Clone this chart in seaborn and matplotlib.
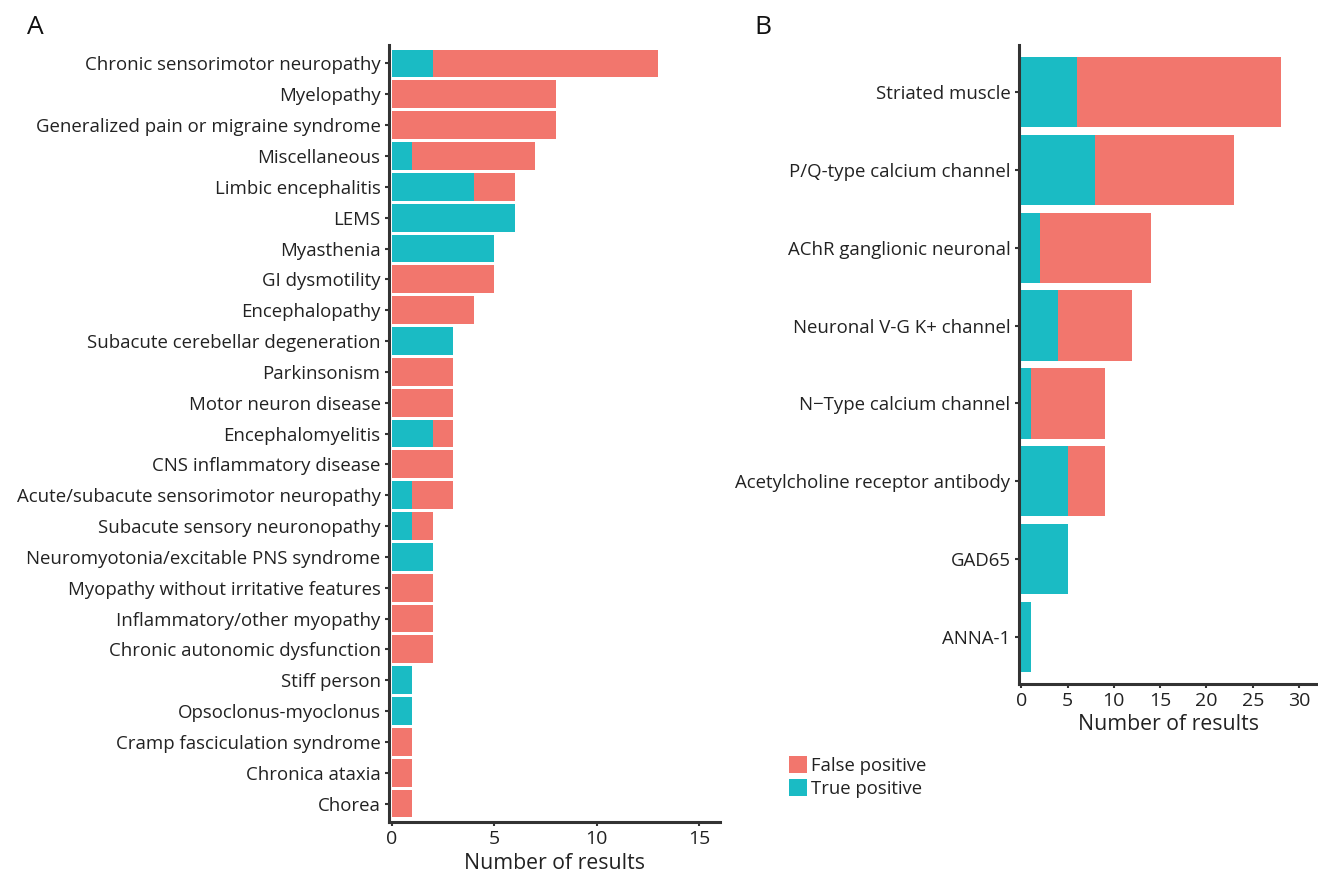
import matplotlib
matplotlib.use("Agg")
import matplotlib.pyplot as plt
import seaborn as sns
import pandas as pd
from matplotlib.patches import Patch

# ---- data ----
a_labels = ["Chronic sensorimotor neuropathy", "Myelopathy", "Generalized pain or migraine syndrome",
            "Miscellaneous", "Limbic encephalitis", "LEMS", "Myasthenia", "GI dysmotility",
            "Encephalopathy", "Subacute cerebellar degeneration", "Parkinsonism", "Motor neuron disease",
            "Encephalomyelitis", "CNS inflammatory disease", "Acute/subacute sensorimotor neuropathy",
            "Subacute sensory neuronopathy", "Neuromyotonia/excitable PNS syndrome",
            "Myopathy without irritative features", "Inflammatory/other myopathy",
            "Chronic autonomic dysfunction", "Stiff person", "Opsoclonus-myoclonus",
            "Cramp fasciculation syndrome", "Chronica ataxia", "Chorea"]
a_true = [2, 0, 0, 1, 4, 6, 5, 0, 0, 3, 0, 0, 2, 0, 1, 1, 2, 0, 0, 0, 1, 1, 0, 0, 0]
a_false = [11, 8, 8, 6, 2, 0, 0, 5, 4, 0, 3, 3, 1, 3, 2, 1, 0, 2, 2, 2, 0, 0, 1, 1, 1]

b_labels = ["Striated muscle", "P/Q-type calcium channel", "AChR ganglionic neuronal",
            "Neuronal V-G K+ channel", "N\u2212Type calcium channel", "Acetylcholine receptor antibody",
            "GAD65", "ANNA-1"]
b_true = [6, 8, 2, 4, 1, 5, 5, 1]
b_false = [22, 15, 12, 8, 8, 4, 0, 0]

a_xticks = [0, 5, 10, 15]
b_xticks = [0, 5, 10, 15, 20, 25, 30]

FP_COLOR = "#F2766D"
TP_COLOR = "#1ABBC4"
DARK = "#333333"

sns.set_theme(style="white")
plt.rcParams['font.family'] = ['Open Sans', 'DejaVu Sans']

fig = plt.figure(figsize=(13.18, 8.72), dpi=100)
axA = fig.add_axes([0.2951, 0.0573, 0.2511, 0.8911])
axB = fig.add_axes([0.7731, 0.2156, 0.2262, 0.7328])


def draw(ax, labels, tp, fp, xlim, xticks):
    df = pd.DataFrame({"label": labels,
                       "total": [t + f for t, f in zip(tp, fp)],
                       "tp": tp})
    sns.barplot(data=df, y="label", x="total", color=FP_COLOR, width=0.9,
                orient="h", ax=ax, saturation=1, linewidth=0)
    sns.barplot(data=df, y="label", x="tp", color=TP_COLOR, width=0.9,
                orient="h", ax=ax, saturation=1, linewidth=0)
    ax.set_xlim(*xlim)
    ax.set_ylim(len(labels) - 0.4, -0.6)
    ax.set_xticks(xticks)
    ax.set_ylabel("")
    ax.set_xlabel("Number of results", fontsize=15.3, color="#222222", labelpad=3)
    for s in ["top", "right"]:
        ax.spines[s].set_visible(False)
    for s in ["left", "bottom"]:
        ax.spines[s].set_color(DARK)
        ax.spines[s].set_linewidth(2.2)
    ax.tick_params(axis="both", which="both", length=3, width=1.5, color=DARK,
                   labelsize=13.4, labelcolor="#222222", pad=3, left=True, bottom=True)
    ax.tick_params(axis="x", labelsize=14)


draw(axA, a_labels, a_true, a_false, (-0.13, 16.0), a_xticks)
draw(axB, b_labels, b_true, b_false, (-0.25, 31.95), b_xticks)

fig.text(35 / 1318, 1 - 27 / 872, "A", fontsize=19, ha="center", va="center", color="#111111")
fig.text(763 / 1318, 1 - 27 / 872, "B", fontsize=19, ha="center", va="center", color="#111111")

handles = [Patch(facecolor=FP_COLOR, edgecolor="none", label="False positive"),
           Patch(facecolor=TP_COLOR, edgecolor="none", label="True positive")]
fig.legend(handles=handles, loc="upper left", bbox_to_anchor=(789 / 1318, 1 - 756 / 872),
           frameon=False, fontsize=13.3, handlelength=1.0, handleheight=1.0,
           handletextpad=0.2, labelspacing=0.25, borderpad=0, borderaxespad=0,
           labelcolor="#222222")

fig.savefig("out.png", dpi=100)
